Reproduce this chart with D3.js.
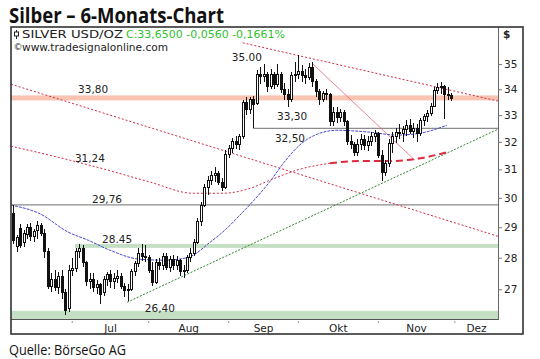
<!DOCTYPE html>
<html><head><meta charset="utf-8">
<script src="https://cdn.jsdelivr.net/npm/d3@7"></script>
<style>body{margin:0;background:#fff}svg{display:block}</style>
</head><body>
<svg id="c" width="540" height="359"></svg>
<script>
// ---- data (daily bars, Jun 7 – Nov 30, weekdays) ----
const opens=[29.45,28.35,28.95,28.50,28.75,29.00,28.70,28.90,29.05,28.80,28.20,27.10,27.30,27.05,27.40,26.90,26.40,
27.60,27.65,28.20,28.30,27.85,27.25,27.30,27.05,27.15,26.90,27.30,27.45,27.25,27.35,27.40,27.10,26.95,27.00,27.55,27.80,28.15,28.05,
28.00,27.60,27.20,27.85,27.75,28.05,27.70,27.95,27.75,27.90,27.55,27.60,28.00,28.15,28.50,29.20,29.75,30.35,30.60,30.80,30.85,30.55,30.35,
31.55,31.75,32.00,31.90,32.20,33.50,33.20,33.60,33.45,34.60,34.50,34.60,34.10,34.60,34.20,34.60,34.00,33.80,33.60,34.55,
34.60,34.70,34.55,34.45,34.85,34.30,33.90,33.60,33.85,33.80,32.75,33.10,32.90,33.10,32.75,32.00,31.90,31.60,31.90,32.10,31.85,32.00,32.20,
32.30,31.50,30.90,31.20,31.95,32.20,32.35,32.30,32.45,32.60,32.40,32.50,32.30,32.80,32.95,33.05,33.35,33.95,34.05,34.10,33.80,33.75];
const highs=[29.75,28.75,29.10,28.90,29.10,29.15,28.95,29.20,29.15,28.95,28.30,27.50,27.60,27.55,27.60,27.00,27.75,
28.00,28.30,28.45,28.40,27.90,27.50,27.50,27.30,27.20,27.40,27.55,27.60,27.50,27.60,27.50,27.20,27.15,27.65,27.90,28.30,28.45,28.40,
28.10,27.85,27.95,28.00,28.15,28.15,28.05,28.10,28.05,27.95,27.75,28.10,28.30,28.60,29.30,29.85,30.50,30.75,30.95,31.10,30.95,30.70,31.70,
31.90,32.15,32.20,32.30,33.60,33.70,33.70,33.75,34.75,34.90,35.00,34.70,34.80,34.70,35.00,34.70,34.25,34.00,34.70,35.10,
35.35,34.95,34.80,35.05,35.10,34.40,34.00,33.95,34.00,33.85,33.30,33.30,33.25,33.20,32.80,32.25,32.00,32.10,32.30,32.25,32.20,32.35,32.45,
32.35,31.70,31.35,32.10,32.35,32.50,32.65,32.60,32.80,32.85,32.70,32.65,32.90,33.05,33.20,33.45,34.10,34.25,34.30,34.15,34.10,33.85];
const lows=[28.45,28.20,28.30,28.35,28.60,28.55,28.50,28.60,28.70,28.00,27.00,26.90,26.95,26.85,26.70,26.20,26.30,
27.40,27.55,28.00,27.70,27.10,27.00,26.90,26.85,26.55,26.80,27.10,27.05,27.00,27.20,27.00,26.75,26.65,26.95,27.40,27.70,27.90,27.85,
27.50,27.10,27.15,27.60,27.60,27.60,27.55,27.60,27.60,27.40,27.35,27.50,27.85,28.05,28.45,29.05,29.70,30.10,30.45,30.55,30.45,30.25,30.30,
31.40,31.60,31.75,31.70,32.10,33.00,33.05,32.50,33.40,34.20,34.30,33.90,34.00,34.00,34.10,33.85,33.60,33.30,33.50,34.30,
34.40,34.30,34.20,34.35,34.10,33.70,33.40,33.50,33.60,32.60,32.60,32.70,32.75,32.60,31.90,31.75,31.50,31.50,31.70,31.70,31.65,31.85,32.00,
31.40,30.60,30.75,31.10,31.60,31.95,32.10,32.00,32.20,32.30,32.15,32.00,32.20,32.60,32.75,32.95,33.30,33.80,33.80,32.85,33.60,33.55];
const closes=[28.55,28.65,28.40,28.80,29.00,28.70,28.85,29.05,28.80,28.20,27.10,27.30,27.05,27.40,26.90,26.35,27.60,
27.65,28.20,28.30,27.85,27.25,27.30,27.05,27.15,26.85,27.30,27.45,27.25,27.35,27.40,27.10,26.95,27.00,27.55,27.80,28.15,28.05,28.00,
27.60,27.20,27.85,27.75,28.05,27.70,27.95,27.75,27.90,27.55,27.60,28.00,28.15,28.50,29.20,29.75,30.35,30.60,30.80,30.85,30.55,30.35,31.55,
31.75,32.00,31.90,32.20,33.50,33.20,33.60,33.40,34.60,34.50,34.60,34.10,34.60,34.20,34.60,34.00,33.80,33.60,34.55,34.60,
34.70,34.55,34.45,34.85,34.30,33.90,33.60,33.85,33.80,32.75,33.10,32.90,33.10,32.75,32.00,31.90,31.60,31.90,32.10,31.85,32.00,32.20,32.30,
31.50,30.90,31.20,31.95,32.20,32.35,32.30,32.45,32.60,32.40,32.50,32.30,32.80,32.95,33.05,33.35,33.95,34.05,34.10,33.80,33.75,33.65];

// moving averages sampled at bar positions [bar, value]
const ma50=[[-0.6,29.75],[7.8,29.45],[15.8,28.84],[21.6,28.57],[27.9,28.24],[36.5,27.95],[43.7,27.92],[50.3,28.01],[56.6,28.5],
[61.5,28.97],[65.2,29.41],[69.5,29.95],[73.9,30.58],[78.2,31.3],[83.0,31.95],[86.8,32.25],[93.1,32.43],[102.6,32.36],[110.3,32.25],[117.0,32.32],[124.7,32.62]];
const ma200=[[-0.6,31.84],[10.6,31.51],[25,31.05],[39.4,30.55],[51.7,30.16],[60.3,30.16],[68.1,30.33],[73.9,30.62],[82.5,31.01],
[91.1,31.22],[99.7,31.3],[108.3,31.3],[117,31.4],[124.7,31.62]];

// trend lines [bar, price]
const resistTop=[[66,35.87],[139.4,33.54]];
const channelLow=[[-0.6,34.2],[139.4,28.7]];
const steepDown=[[85.9,35.04],[115.5,31.33]];
const supportUp=[[32.8,26.6],[139.4,32.47]];

// horizontal marks
const hLines=[{v:29.76,from:-0.6},{v:32.50,from:69}];
const zoneRed=[{v:33.80,from:-0.6}];
const zoneGreen=[{v:28.45,from:17.8,h:4},{v:26.40,from:-0.6,h:0}];
const labels=[{t:"35.00",b:67.2,v:35.00,dy:-3},{t:"33,80",b:23,v:33.80,dy:-1},{t:"33,30",b:80.2,v:33.30,dy:13},
{t:"32,50",b:79.6,v:32.50,dy:13.5},{t:"31,24",b:22.1,v:31.24,dy:-1},{t:"29,76",b:27,v:29.76,dy:-2},
{t:"28.45",b:29.9,v:28.45,dy:-1},{t:"26,40",b:42.2,v:26.40,dy:3}];

const monthLabels=["Jul","Aug","Sep","Okt","Nov","Dez"];
const monthStarts=[17,39,62,82,105,127];
const yTicks=[27,28,29,30,31,32,33,34,35];

// ---- layout ----
const svg=d3.select("#c");
const L=11,R=498,T=27,B=319;
const x=d3.scaleLinear().domain([-0.6,139.4]).range([L,R]);
const y=d3.scaleLog().domain([26.09,36.53]).range([B,T]);
const FONT="'DejaVu Sans', Verdana, sans-serif";

svg.append("defs").append("clipPath").attr("id","pc").append("rect")
  .attr("x",L).attr("y",T).attr("width",R-L).attr("height",B-T);
const g=svg.append("g").attr("clip-path","url(#pc)");

// zones
zoneRed.forEach(z=>g.append("rect").attr("x",x(z.from)).attr("y",y(z.v)+1).attr("width",R-x(z.from)).attr("height",5).attr("fill","#f9c4b2"));
zoneGreen.forEach(z=>{
  const top=z.h?y(z.v):y(z.v)+2;
  const h=z.h?z.h:B-top;
  g.append("rect").attr("x",x(z.from)).attr("y",top).attr("width",R-x(z.from)).attr("height",h).attr("fill","#c4dfc4");
});
hLines.forEach(h=>g.append("line").attr("x1",x(h.from)).attr("x2",R).attr("y1",y(h.v)).attr("y2",y(h.v))
  .attr("stroke","#8c8c8c").attr("stroke-width",1.2));

const line=d3.line().x(d=>x(d[0])).y(d=>y(d[1]));
const curve=d3.line().x(d=>x(d[0])).y(d=>y(d[1])).curve(d3.curveMonotoneX);

g.append("path").attr("d",line(channelLow)).attr("fill","none").attr("stroke","#d42a44").attr("stroke-width",1).attr("stroke-dasharray","2,2");
g.append("path").attr("d",line(resistTop)).attr("fill","none").attr("stroke","#d42a44").attr("stroke-width",1).attr("stroke-dasharray","2,2");
g.append("path").attr("d",line(steepDown)).attr("fill","none").attr("stroke","#e06476").attr("stroke-width",0.8);
g.append("path").attr("d",line(supportUp)).attr("fill","none").attr("stroke","#2f8a2f").attr("stroke-width",1).attr("stroke-dasharray","2,1.5");

const maLeft=ma200.filter(d=>d[0]<=91.1), maRight=ma200.filter(d=>d[0]>=91.1);
g.append("path").attr("d",curve(maLeft)).attr("fill","none").attr("stroke","#d42a44").attr("stroke-width",1).attr("stroke-dasharray","2,2");
g.append("path").attr("d",curve(maRight)).attr("fill","none").attr("stroke","#dd2a3e").attr("stroke-width",2).attr("stroke-dasharray","7,4");
g.append("path").attr("d",curve(ma50)).attr("fill","none").attr("stroke","#4a4ad0").attr("stroke-width",1).attr("stroke-dasharray","3,1");

// candles
const bars=d3.range(opens.length).map(i=>({i,o:opens[i],h:highs[i],l:lows[i],c:closes[i]}));
const cg=g.append("g").attr("shape-rendering","crispEdges");
cg.selectAll("line.w").data(bars).join("line").attr("class","w")
  .attr("x1",d=>Math.round(x(d.i))+0.5).attr("x2",d=>Math.round(x(d.i))+0.5)
  .attr("y1",d=>y(d.h)).attr("y2",d=>y(d.l)).attr("stroke","#111").attr("stroke-width",1);
cg.selectAll("rect.b").data(bars).join("rect").attr("class","b")
  .attr("x",d=>Math.round(x(d.i))-0.5).attr("width",2)
  .attr("y",d=>y(Math.max(d.o,d.c)))
  .attr("height",d=>Math.max(1,Math.abs(y(d.o)-y(d.c))))
  .attr("fill",d=>d.c>=d.o?"#fff":"#111").attr("stroke","#111").attr("stroke-width",1);

// labels
g.selectAll("text.lab").data(labels).join("text").attr("class","lab")
  .attr("x",d=>x(d.b)).attr("y",d=>y(d.v)+d.dy).attr("text-anchor","middle")
  .attr("font-family",FONT).attr("font-size",10.5).attr("fill","#222").text(d=>d.t);

// inner plot border
svg.append("line").attr("x1",L).attr("x2",R).attr("y1",B+0.5).attr("y2",B+0.5).attr("stroke","#555");
svg.append("line").attr("x1",R+0.5).attr("x2",R+0.5).attr("y1",T).attr("y2",B+1).attr("stroke","#666");

// y axis
const ya=svg.append("g").attr("transform",`translate(${R+1},0)`)
  .call(d3.axisRight(y).tickValues(yTicks).tickSize(3).tickPadding(2).tickFormat(d3.format("d")));
ya.select(".domain").remove();
ya.selectAll("line").attr("stroke","#777");
ya.selectAll("text").attr("font-family",FONT).attr("font-size",10.5).attr("fill","#222");
svg.append("text").attr("x",503).attr("y",38).attr("font-family",FONT).attr("font-size",10.5).attr("font-weight","bold").attr("fill","#222").text("$");

// x axis
svg.selectAll("line.mt").data(monthStarts).join("line").attr("class","mt")
  .attr("x1",d=>x(d)).attr("x2",d=>x(d)).attr("y1",B+2).attr("y2",B+4).attr("stroke","#999");
const ends=monthStarts.slice(1).concat([x.domain()[1]]);
svg.selectAll("text.ml").data(monthLabels).join("text").attr("class","ml")
  .attr("x",(d,k)=>x((monthStarts[k]+ends[k])/2)).attr("y",332).attr("text-anchor","middle")
  .attr("font-family",FONT).attr("font-size",10.5).attr("fill","#222").text(d=>d);

// outer frame
svg.append("rect").attr("x",11).attr("y",27).attr("width",512).attr("height",307)
  .attr("fill","none").attr("stroke","#333").attr("stroke-width",1.6);

// legend
const ic=svg.append("g").attr("stroke","#222").attr("fill","none");
ic.append("line").attr("x1",16.5).attr("x2",16.5).attr("y1",30).attr("y2",39);
ic.append("rect").attr("x",14.5).attr("y",32).attr("width",4).attr("height",4).attr("fill","#fff");
svg.append("text").attr("x",22).attr("y",37.5).attr("font-family",FONT).attr("font-size",11)
  .attr("textLength",101).attr("lengthAdjust","spacingAndGlyphs").attr("fill","#222").text("SILVER USD/OZ");
svg.append("text").attr("x",126).attr("y",37.5).attr("font-family",FONT).attr("font-size",11)
  .attr("textLength",159).attr("lengthAdjust","spacingAndGlyphs").attr("fill","#2fbf2f").text("C:33,6500 -0,0560 -0,1661%");
svg.append("text").attr("x",13.5).attr("y",50).attr("font-family",FONT).attr("font-size",9).attr("fill","#333").text("©");
svg.append("text").attr("x",22).attr("y",50.5).attr("font-family",FONT).attr("font-size",11)
  .attr("textLength",146).attr("lengthAdjust","spacingAndGlyphs").attr("fill","#222").text("www.tradesignalonline.com");

// title & source
svg.append("text").attr("x",9).attr("y",23).attr("font-family","'Open Sans', sans-serif").attr("font-weight","bold")
  .attr("font-size",21).attr("textLength",215).attr("lengthAdjust","spacingAndGlyphs").attr("fill","#111").text("Silber – 6-Monats-Chart");
svg.append("text").attr("x",9).attr("y",355).attr("font-family","'Open Sans', sans-serif")
  .attr("font-size",15).attr("textLength",117).attr("lengthAdjust","spacingAndGlyphs").attr("fill","#111").text("Quelle: BörseGo AG");
</script>
</body></html>
